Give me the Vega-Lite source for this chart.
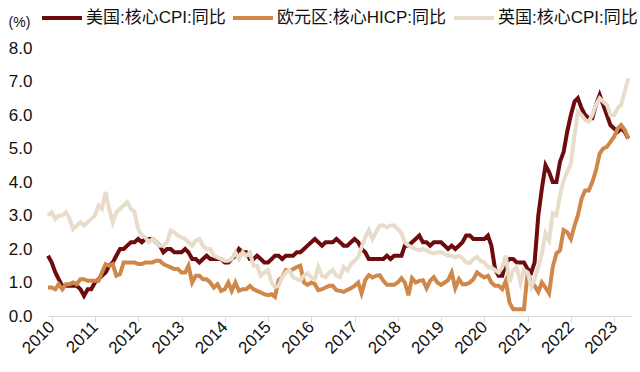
{
"$schema": "https://vega.github.io/schema/vega-lite/v6.json",
"width": 584, "height": 268,
"autosize": "none",
"padding": {"left": 48, "top": 48, "right": 8, "bottom": 56},
"background": "white",
"config": {"view": {"stroke": null}, "font": "Liberation Sans, Noto Sans CJK SC"},
"datasets": {
"us": [
{"d":"2009-12-01","v":1.8},
{"d":"2010-01-01","v":1.6},{"d":"2010-02-01","v":1.3},{"d":"2010-03-01","v":1.1},{"d":"2010-04-01","v":0.9},{"d":"2010-05-01","v":0.9},{"d":"2010-06-01","v":0.9},{"d":"2010-07-01","v":0.9},{"d":"2010-08-01","v":0.9},{"d":"2010-09-01","v":0.8},{"d":"2010-10-01","v":0.6},{"d":"2010-11-01","v":0.8},{"d":"2010-12-01","v":0.8},
{"d":"2011-01-01","v":1.0},{"d":"2011-02-01","v":1.1},{"d":"2011-03-01","v":1.2},{"d":"2011-04-01","v":1.3},{"d":"2011-05-01","v":1.5},{"d":"2011-06-01","v":1.6},{"d":"2011-07-01","v":1.8},{"d":"2011-08-01","v":2.0},{"d":"2011-09-01","v":2.0},{"d":"2011-10-01","v":2.1},{"d":"2011-11-01","v":2.2},{"d":"2011-12-01","v":2.2},
{"d":"2012-01-01","v":2.3},{"d":"2012-02-01","v":2.2},{"d":"2012-03-01","v":2.3},{"d":"2012-04-01","v":2.3},{"d":"2012-05-01","v":2.3},{"d":"2012-06-01","v":2.2},{"d":"2012-07-01","v":2.1},{"d":"2012-08-01","v":1.9},{"d":"2012-09-01","v":2.0},{"d":"2012-10-01","v":2.0},{"d":"2012-11-01","v":1.9},{"d":"2012-12-01","v":1.9},
{"d":"2013-01-01","v":1.9},{"d":"2013-02-01","v":2.0},{"d":"2013-03-01","v":1.9},{"d":"2013-04-01","v":1.7},{"d":"2013-05-01","v":1.7},{"d":"2013-06-01","v":1.6},{"d":"2013-07-01","v":1.7},{"d":"2013-08-01","v":1.8},{"d":"2013-09-01","v":1.7},{"d":"2013-10-01","v":1.7},{"d":"2013-11-01","v":1.7},{"d":"2013-12-01","v":1.7},
{"d":"2014-01-01","v":1.6},{"d":"2014-02-01","v":1.6},{"d":"2014-03-01","v":1.7},{"d":"2014-04-01","v":1.8},{"d":"2014-05-01","v":2.0},{"d":"2014-06-01","v":1.9},{"d":"2014-07-01","v":1.9},{"d":"2014-08-01","v":1.7},{"d":"2014-09-01","v":1.7},{"d":"2014-10-01","v":1.8},{"d":"2014-11-01","v":1.7},{"d":"2014-12-01","v":1.6},
{"d":"2015-01-01","v":1.6},{"d":"2015-02-01","v":1.7},{"d":"2015-03-01","v":1.8},{"d":"2015-04-01","v":1.8},{"d":"2015-05-01","v":1.7},{"d":"2015-06-01","v":1.8},{"d":"2015-07-01","v":1.8},{"d":"2015-08-01","v":1.8},{"d":"2015-09-01","v":1.9},{"d":"2015-10-01","v":1.9},{"d":"2015-11-01","v":2.0},{"d":"2015-12-01","v":2.1},
{"d":"2016-01-01","v":2.2},{"d":"2016-02-01","v":2.3},{"d":"2016-03-01","v":2.2},{"d":"2016-04-01","v":2.1},{"d":"2016-05-01","v":2.2},{"d":"2016-06-01","v":2.2},{"d":"2016-07-01","v":2.2},{"d":"2016-08-01","v":2.3},{"d":"2016-09-01","v":2.2},{"d":"2016-10-01","v":2.1},{"d":"2016-11-01","v":2.1},{"d":"2016-12-01","v":2.2},
{"d":"2017-01-01","v":2.3},{"d":"2017-02-01","v":2.2},{"d":"2017-03-01","v":2.0},{"d":"2017-04-01","v":1.9},{"d":"2017-05-01","v":1.7},{"d":"2017-06-01","v":1.7},{"d":"2017-07-01","v":1.7},{"d":"2017-08-01","v":1.7},{"d":"2017-09-01","v":1.7},{"d":"2017-10-01","v":1.8},{"d":"2017-11-01","v":1.7},{"d":"2017-12-01","v":1.8},
{"d":"2018-01-01","v":1.8},{"d":"2018-02-01","v":1.8},{"d":"2018-03-01","v":2.1},{"d":"2018-04-01","v":2.1},{"d":"2018-05-01","v":2.2},{"d":"2018-06-01","v":2.3},{"d":"2018-07-01","v":2.4},{"d":"2018-08-01","v":2.2},{"d":"2018-09-01","v":2.2},{"d":"2018-10-01","v":2.1},{"d":"2018-11-01","v":2.2},{"d":"2018-12-01","v":2.2},
{"d":"2019-01-01","v":2.2},{"d":"2019-02-01","v":2.1},{"d":"2019-03-01","v":2.0},{"d":"2019-04-01","v":2.1},{"d":"2019-05-01","v":2.0},{"d":"2019-06-01","v":2.1},{"d":"2019-07-01","v":2.2},{"d":"2019-08-01","v":2.4},{"d":"2019-09-01","v":2.4},{"d":"2019-10-01","v":2.3},{"d":"2019-11-01","v":2.3},{"d":"2019-12-01","v":2.3},
{"d":"2020-01-01","v":2.3},{"d":"2020-02-01","v":2.4},{"d":"2020-03-01","v":2.1},{"d":"2020-04-01","v":1.4},{"d":"2020-05-01","v":1.2},{"d":"2020-06-01","v":1.2},{"d":"2020-07-01","v":1.6},{"d":"2020-08-01","v":1.7},{"d":"2020-09-01","v":1.7},{"d":"2020-10-01","v":1.6},{"d":"2020-11-01","v":1.6},{"d":"2020-12-01","v":1.6},
{"d":"2021-01-01","v":1.4},{"d":"2021-02-01","v":1.3},{"d":"2021-03-01","v":1.6},{"d":"2021-04-01","v":3.0},{"d":"2021-05-01","v":3.8},{"d":"2021-06-01","v":4.5},{"d":"2021-07-01","v":4.3},{"d":"2021-08-01","v":4.0},{"d":"2021-09-01","v":4.0},{"d":"2021-10-01","v":4.6},{"d":"2021-11-01","v":4.9},{"d":"2021-12-01","v":5.5},
{"d":"2022-01-01","v":6.0},{"d":"2022-02-01","v":6.4},{"d":"2022-03-01","v":6.5},{"d":"2022-04-01","v":6.2},{"d":"2022-05-01","v":6.0},{"d":"2022-06-01","v":5.9},{"d":"2022-07-01","v":5.9},{"d":"2022-08-01","v":6.3},{"d":"2022-09-01","v":6.6},{"d":"2022-10-01","v":6.3},{"d":"2022-11-01","v":6.0},{"d":"2022-12-01","v":5.7},
{"d":"2023-01-01","v":5.6},{"d":"2023-02-01","v":5.5},{"d":"2023-03-01","v":5.6},{"d":"2023-04-01","v":5.5},{"d":"2023-05-01","v":5.3}
],
"eu": [
{"d":"2009-12-01","v":0.85},
{"d":"2010-01-01","v":0.85},{"d":"2010-02-01","v":0.8},{"d":"2010-03-01","v":0.95},{"d":"2010-04-01","v":0.8},{"d":"2010-05-01","v":0.95},{"d":"2010-06-01","v":0.95},{"d":"2010-07-01","v":1.0},{"d":"2010-08-01","v":0.95},{"d":"2010-09-01","v":1.1},{"d":"2010-10-01","v":1.1},{"d":"2010-11-01","v":1.05},{"d":"2010-12-01","v":1.05},
{"d":"2011-01-01","v":1.05},{"d":"2011-02-01","v":1.05},{"d":"2011-03-01","v":1.3},{"d":"2011-04-01","v":1.55},{"d":"2011-05-01","v":1.5},{"d":"2011-06-01","v":1.55},{"d":"2011-07-01","v":1.2},{"d":"2011-08-01","v":1.25},{"d":"2011-09-01","v":1.6},{"d":"2011-10-01","v":1.6},{"d":"2011-11-01","v":1.6},{"d":"2011-12-01","v":1.6},
{"d":"2012-01-01","v":1.55},{"d":"2012-02-01","v":1.55},{"d":"2012-03-01","v":1.6},{"d":"2012-04-01","v":1.6},{"d":"2012-05-01","v":1.6},{"d":"2012-06-01","v":1.65},{"d":"2012-07-01","v":1.65},{"d":"2012-08-01","v":1.55},{"d":"2012-09-01","v":1.5},{"d":"2012-10-01","v":1.45},{"d":"2012-11-01","v":1.4},{"d":"2012-12-01","v":1.4},
{"d":"2013-01-01","v":1.3},{"d":"2013-02-01","v":1.3},{"d":"2013-03-01","v":1.5},{"d":"2013-04-01","v":1.0},{"d":"2013-05-01","v":1.2},{"d":"2013-06-01","v":1.2},{"d":"2013-07-01","v":1.1},{"d":"2013-08-01","v":1.1},{"d":"2013-09-01","v":1.0},{"d":"2013-10-01","v":0.85},{"d":"2013-11-01","v":0.95},{"d":"2013-12-01","v":0.75},
{"d":"2014-01-01","v":0.8},{"d":"2014-02-01","v":1.0},{"d":"2014-03-01","v":0.75},{"d":"2014-04-01","v":1.0},{"d":"2014-05-01","v":0.75},{"d":"2014-06-01","v":0.8},{"d":"2014-07-01","v":0.8},{"d":"2014-08-01","v":0.9},{"d":"2014-09-01","v":0.8},{"d":"2014-10-01","v":0.75},{"d":"2014-11-01","v":0.7},{"d":"2014-12-01","v":0.65},
{"d":"2015-01-01","v":0.62},{"d":"2015-02-01","v":0.65},{"d":"2015-03-01","v":0.57},{"d":"2015-04-01","v":1.07},{"d":"2015-05-01","v":1.16},{"d":"2015-06-01","v":1.37},{"d":"2015-07-01","v":1.35},{"d":"2015-08-01","v":1.4},{"d":"2015-09-01","v":1.46},{"d":"2015-10-01","v":1.5},{"d":"2015-11-01","v":1.0},{"d":"2015-12-01","v":0.93},
{"d":"2016-01-01","v":1.0},{"d":"2016-02-01","v":0.95},{"d":"2016-03-01","v":0.77},{"d":"2016-04-01","v":0.8},{"d":"2016-05-01","v":0.85},{"d":"2016-06-01","v":0.9},{"d":"2016-07-01","v":0.9},{"d":"2016-08-01","v":0.77},{"d":"2016-09-01","v":0.75},{"d":"2016-10-01","v":0.72},{"d":"2016-11-01","v":0.78},{"d":"2016-12-01","v":0.83},
{"d":"2017-01-01","v":0.9},{"d":"2017-02-01","v":1.0},{"d":"2017-03-01","v":0.68},{"d":"2017-04-01","v":1.07},{"d":"2017-05-01","v":1.22},{"d":"2017-06-01","v":1.15},{"d":"2017-07-01","v":1.2},{"d":"2017-08-01","v":1.22},{"d":"2017-09-01","v":1.05},{"d":"2017-10-01","v":0.93},{"d":"2017-11-01","v":0.93},{"d":"2017-12-01","v":0.93},
{"d":"2018-01-01","v":1.0},{"d":"2018-02-01","v":1.13},{"d":"2018-03-01","v":1.0},{"d":"2018-04-01","v":0.62},{"d":"2018-05-01","v":1.13},{"d":"2018-06-01","v":1.0},{"d":"2018-07-01","v":1.05},{"d":"2018-08-01","v":1.07},{"d":"2018-09-01","v":0.83},{"d":"2018-10-01","v":1.05},{"d":"2018-11-01","v":1.16},{"d":"2018-12-01","v":1.0},
{"d":"2019-01-01","v":0.93},{"d":"2019-02-01","v":1.0},{"d":"2019-03-01","v":1.07},{"d":"2019-04-01","v":1.3},{"d":"2019-05-01","v":0.83},{"d":"2019-06-01","v":1.1},{"d":"2019-07-01","v":0.95},{"d":"2019-08-01","v":0.95},{"d":"2019-09-01","v":1.0},{"d":"2019-10-01","v":1.1},{"d":"2019-11-01","v":1.3},{"d":"2019-12-01","v":1.22},
{"d":"2020-01-01","v":1.15},{"d":"2020-02-01","v":1.2},{"d":"2020-03-01","v":1.0},{"d":"2020-04-01","v":0.9},{"d":"2020-05-01","v":0.9},{"d":"2020-06-01","v":0.8},{"d":"2020-07-01","v":1.05},{"d":"2020-08-01","v":0.4},{"d":"2020-09-01","v":0.2},{"d":"2020-10-01","v":0.2},{"d":"2020-11-01","v":0.2},{"d":"2020-12-01","v":0.2},
{"d":"2021-01-01","v":1.3},{"d":"2021-02-01","v":1.0},{"d":"2021-03-01","v":0.9},{"d":"2021-04-01","v":0.72},{"d":"2021-05-01","v":1.0},{"d":"2021-06-01","v":0.85},{"d":"2021-07-01","v":0.68},{"d":"2021-08-01","v":1.46},{"d":"2021-09-01","v":1.87},{"d":"2021-10-01","v":1.96},{"d":"2021-11-01","v":2.56},{"d":"2021-12-01","v":2.5},
{"d":"2022-01-01","v":2.3},{"d":"2022-02-01","v":2.7},{"d":"2022-03-01","v":3.0},{"d":"2022-04-01","v":3.5},{"d":"2022-05-01","v":3.75},{"d":"2022-06-01","v":3.75},{"d":"2022-07-01","v":4.0},{"d":"2022-08-01","v":4.35},{"d":"2022-09-01","v":4.85},{"d":"2022-10-01","v":5.0},{"d":"2022-11-01","v":5.05},{"d":"2022-12-01","v":5.2},
{"d":"2023-01-01","v":5.35},{"d":"2023-02-01","v":5.6},{"d":"2023-03-01","v":5.7},{"d":"2023-04-01","v":5.55},{"d":"2023-05-01","v":5.3}
],
"uk": [
{"d":"2009-12-01","v":3.0},
{"d":"2010-01-01","v":3.1},{"d":"2010-02-01","v":2.9},{"d":"2010-03-01","v":3.0},{"d":"2010-04-01","v":3.0},{"d":"2010-05-01","v":3.1},{"d":"2010-06-01","v":2.9},{"d":"2010-07-01","v":2.6},{"d":"2010-08-01","v":2.7},{"d":"2010-09-01","v":2.8},{"d":"2010-10-01","v":2.7},{"d":"2010-11-01","v":2.8},{"d":"2010-12-01","v":2.9},
{"d":"2011-01-01","v":3.0},{"d":"2011-02-01","v":3.3},{"d":"2011-03-01","v":3.2},{"d":"2011-04-01","v":3.7},{"d":"2011-05-01","v":3.2},{"d":"2011-06-01","v":2.8},{"d":"2011-07-01","v":3.1},{"d":"2011-08-01","v":3.2},{"d":"2011-09-01","v":3.3},{"d":"2011-10-01","v":3.4},{"d":"2011-11-01","v":3.2},{"d":"2011-12-01","v":3.1},
{"d":"2012-01-01","v":2.6},{"d":"2012-02-01","v":2.4},{"d":"2012-03-01","v":2.35},{"d":"2012-04-01","v":2.2},{"d":"2012-05-01","v":2.3},{"d":"2012-06-01","v":2.2},{"d":"2012-07-01","v":2.1},{"d":"2012-08-01","v":2.1},{"d":"2012-09-01","v":2.2},{"d":"2012-10-01","v":2.55},{"d":"2012-11-01","v":2.5},{"d":"2012-12-01","v":2.4},
{"d":"2013-01-01","v":2.35},{"d":"2013-02-01","v":2.3},{"d":"2013-03-01","v":2.2},{"d":"2013-04-01","v":2.1},{"d":"2013-05-01","v":2.25},{"d":"2013-06-01","v":2.3},{"d":"2013-07-01","v":2.1},{"d":"2013-08-01","v":2.0},{"d":"2013-09-01","v":2.0},{"d":"2013-10-01","v":1.8},{"d":"2013-11-01","v":1.75},{"d":"2013-12-01","v":1.7},
{"d":"2014-01-01","v":1.65},{"d":"2014-02-01","v":1.65},{"d":"2014-03-01","v":1.7},{"d":"2014-04-01","v":1.9},{"d":"2014-05-01","v":1.7},{"d":"2014-06-01","v":1.9},{"d":"2014-07-01","v":1.8},{"d":"2014-08-01","v":1.9},{"d":"2014-09-01","v":1.5},{"d":"2014-10-01","v":1.5},{"d":"2014-11-01","v":1.2},{"d":"2014-12-01","v":1.3},
{"d":"2015-01-01","v":1.37},{"d":"2015-02-01","v":1.0},{"d":"2015-03-01","v":0.87},{"d":"2015-04-01","v":0.9},{"d":"2015-05-01","v":1.16},{"d":"2015-06-01","v":1.3},{"d":"2015-07-01","v":1.37},{"d":"2015-08-01","v":1.16},{"d":"2015-09-01","v":1.1},{"d":"2015-10-01","v":1.07},{"d":"2015-11-01","v":1.2},{"d":"2015-12-01","v":1.28},
{"d":"2016-01-01","v":1.15},{"d":"2016-02-01","v":1.1},{"d":"2016-03-01","v":1.46},{"d":"2016-04-01","v":1.2},{"d":"2016-05-01","v":1.16},{"d":"2016-06-01","v":1.3},{"d":"2016-07-01","v":1.37},{"d":"2016-08-01","v":1.2},{"d":"2016-09-01","v":1.16},{"d":"2016-10-01","v":1.46},{"d":"2016-11-01","v":1.35},{"d":"2016-12-01","v":1.55},
{"d":"2017-01-01","v":1.65},{"d":"2017-02-01","v":1.76},{"d":"2017-03-01","v":2.05},{"d":"2017-04-01","v":2.35},{"d":"2017-05-01","v":2.56},{"d":"2017-06-01","v":2.3},{"d":"2017-07-01","v":2.5},{"d":"2017-08-01","v":2.7},{"d":"2017-09-01","v":2.7},{"d":"2017-10-01","v":2.65},{"d":"2017-11-01","v":2.7},{"d":"2017-12-01","v":2.7},
{"d":"2018-01-01","v":2.6},{"d":"2018-02-01","v":2.47},{"d":"2018-03-01","v":2.2},{"d":"2018-04-01","v":2.1},{"d":"2018-05-01","v":2.05},{"d":"2018-06-01","v":2.0},{"d":"2018-07-01","v":1.96},{"d":"2018-08-01","v":2.0},{"d":"2018-09-01","v":1.96},{"d":"2018-10-01","v":1.9},{"d":"2018-11-01","v":1.87},{"d":"2018-12-01","v":1.9},
{"d":"2019-01-01","v":1.9},{"d":"2019-02-01","v":1.85},{"d":"2019-03-01","v":1.8},{"d":"2019-04-01","v":1.8},{"d":"2019-05-01","v":1.75},{"d":"2019-06-01","v":1.8},{"d":"2019-07-01","v":1.72},{"d":"2019-08-01","v":1.6},{"d":"2019-09-01","v":1.58},{"d":"2019-10-01","v":1.7},{"d":"2019-11-01","v":1.76},{"d":"2019-12-01","v":1.65},
{"d":"2020-01-01","v":1.6},{"d":"2020-02-01","v":1.46},{"d":"2020-03-01","v":1.45},{"d":"2020-04-01","v":1.37},{"d":"2020-05-01","v":1.3},{"d":"2020-06-01","v":1.45},{"d":"2020-07-01","v":1.8},{"d":"2020-08-01","v":1.0},{"d":"2020-09-01","v":1.37},{"d":"2020-10-01","v":1.46},{"d":"2020-11-01","v":1.0},{"d":"2020-12-01","v":1.37},
{"d":"2021-01-01","v":1.3},{"d":"2021-02-01","v":0.87},{"d":"2021-03-01","v":1.1},{"d":"2021-04-01","v":1.46},{"d":"2021-05-01","v":1.87},{"d":"2021-06-01","v":2.47},{"d":"2021-07-01","v":2.26},{"d":"2021-08-01","v":3.07},{"d":"2021-09-01","v":3.0},{"d":"2021-10-01","v":3.6},{"d":"2021-11-01","v":4.05},{"d":"2021-12-01","v":4.3},
{"d":"2022-01-01","v":4.55},{"d":"2022-02-01","v":5.4},{"d":"2022-03-01","v":6.1},{"d":"2022-04-01","v":6.0},{"d":"2022-05-01","v":5.85},{"d":"2022-06-01","v":5.8},{"d":"2022-07-01","v":6.0},{"d":"2022-08-01","v":6.3},{"d":"2022-09-01","v":6.5},{"d":"2022-10-01","v":6.4},{"d":"2022-11-01","v":6.3},{"d":"2022-12-01","v":6.0},
{"d":"2023-01-01","v":6.0},{"d":"2023-02-01","v":6.2},{"d":"2023-03-01","v":6.3},{"d":"2023-04-01","v":6.7},{"d":"2023-05-01","v":7.1}
]
},
"encoding": {
  "x": {"field": "d", "type": "temporal",
    "scale": {"type": "utc", "domain": [{"year": 2009, "month": 12, "date": 1, "utc": true}, {"year": 2023, "month": 6, "date": 1, "utc": true}]},
    "axis": {"title": null, "grid": false, "domainColor": "#d9d9d9", "domainWidth": 1, "tickColor": "#d9d9d9", "tickSize": 6,
      "tickCount": {"interval": "year", "step": 1}, "format": "%Y", "labelAngle": -45, "labelAlign": "right", "labelBaseline": "middle",
      "labelFontSize": 17, "labelColor": "#111", "labelPadding": 2, "labelFlush": false, "labelOverlap": false}},
  "y": {"field": "v", "type": "quantitative",
    "scale": {"domain": [0, 8], "nice": false},
    "axis": {"title": "(%)", "titleAngle": 0, "titleX": -29, "titleY": -26, "titleAlign": "center", "titleBaseline": "middle",
      "titleFontSize": 14, "titleFontWeight": "normal", "titleColor": "#111",
      "values": [0, 1, 2, 3, 4, 5, 6, 7, 8], "format": ".1f", "ticks": false, "tickSize": 0, "domain": false, "grid": false,
      "labelFontSize": 17, "labelColor": "#111", "labelPadding": 16}},
  "color": {"type": "nominal",
    "scale": {"domain": ["美国:核心CPI:同比", "欧元区:核心HICP:同比", "英国:核心CPI:同比"], "range": ["#6E0B0E", "#CF8849", "#E8DCCB"]},
    "legend": {"orient": "none", "legendX": -8, "legendY": -52, "direction": "horizontal", "title": null,
      "symbolType": "stroke", "symbolSize": 1600, "symbolStrokeWidth": 4, "labelFontSize": 17, "labelOffset": 2,
      "columnPadding": -1, "labelColor": "#111", "labelLimit": 300}}
},
"layer": [
  {"data": {"name": "us"}, "mark": {"type": "line", "strokeWidth": 4}, "encoding": {"color": {"datum": "美国:核心CPI:同比"}}},
  {"data": {"name": "eu"}, "mark": {"type": "line", "strokeWidth": 4}, "encoding": {"color": {"datum": "欧元区:核心HICP:同比"}}},
  {"data": {"name": "uk"}, "mark": {"type": "line", "strokeWidth": 4}, "encoding": {"color": {"datum": "英国:核心CPI:同比"}}}
]
}
